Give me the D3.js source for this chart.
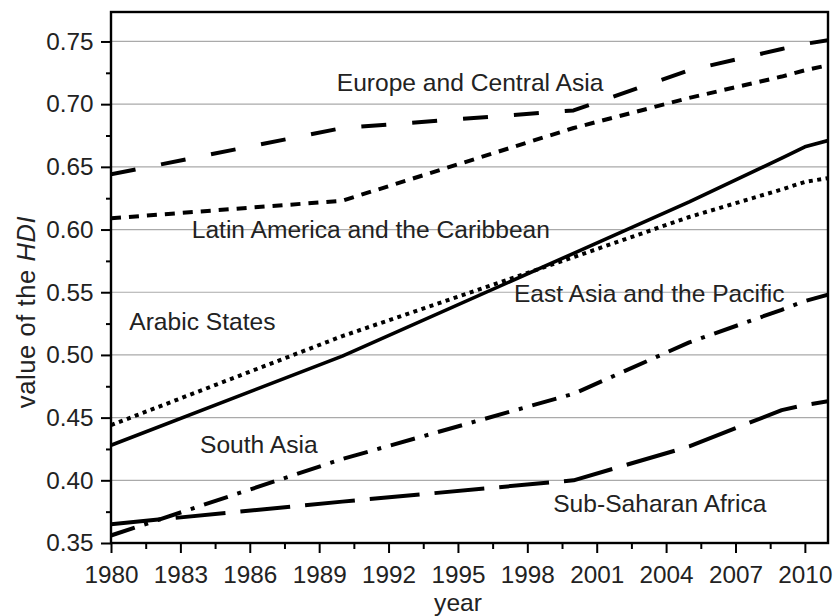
<!DOCTYPE html>
<html>
<head>
<meta charset="utf-8">
<script src="https://cdn.jsdelivr.net/npm/d3@7"></script>
<style>
  html, body { margin: 0; padding: 0; background: #fff; }
  svg { display: block; }
  text { font-family: "Liberation Sans", Arial, sans-serif; fill: #222; }
</style>
</head>
<body>
<svg id="chart" width="835" height="616"></svg>
<script>
// ---- data ----
const years = [1980, 1990, 2000, 2005, 2009, 2010, 2011];
const europeCentralAsia = [0.644, 0.681, 0.695, 0.727, 0.744, 0.748, 0.751];
const latinAmerica      = [0.609, 0.623, 0.681, 0.705, 0.722, 0.727, 0.731];
const eastAsiaPacific   = [0.428, 0.499, 0.581, 0.622, 0.657, 0.666, 0.671];
const arabStates        = [0.444, 0.515, 0.578, 0.610, 0.632, 0.638, 0.641];
const southAsia         = [0.356, 0.417, 0.469, 0.510, 0.536, 0.543, 0.548];
const subSaharanAfrica  = [0.365, 0.383, 0.400, 0.427, 0.456, 0.460, 0.463];

const xTickYears = [1980, 1983, 1986, 1989, 1992, 1995, 1998, 2001, 2004, 2007, 2010];
const yTickValues = [0.35, 0.40, 0.45, 0.50, 0.55, 0.60, 0.65, 0.70, 0.75];

const seriesNames = ["Europe and Central Asia", "Latin America and the Caribbean",
  "East Asia and the Pacific", "Arabic States", "South Asia", "Sub-Saharan Africa"];

// ---- layout ----
const svg = d3.select("#chart");
const mLeft = 111, mRight = 828, mTop = 12, mBottom = 543;

const x = d3.scaleLinear().domain([1980, 2011]).range([mLeft, mRight]);
const y = d3.scaleLinear().domain([0.35, 0.7735]).range([mBottom, mTop]);

// gridlines
svg.append("g").selectAll("line")
  .data(yTickValues.filter(v => v > 0.35))
  .join("line")
  .attr("x1", mLeft).attr("x2", mRight)
  .attr("y1", d => y(d)).attr("y2", d => y(d))
  .attr("stroke", "#aaaaaa").attr("stroke-width", 1.2);

// minor ticks
const xMinor = xTickYears.slice(0, -1).map(v => v + 1.5);
const yMinor = yTickValues.slice(0, -1).map(v => v + 0.025);

const xAxisMinor = svg.append("g").attr("transform", `translate(0,${mBottom})`)
  .call(d3.axisBottom(x).tickValues(xMinor).tickSize(6).tickSizeOuter(0).tickFormat(""));
const yAxisMinor = svg.append("g").attr("transform", `translate(${mLeft},0)`)
  .call(d3.axisLeft(y).tickValues(yMinor).tickSize(5).tickSizeOuter(0).tickFormat(""));

// major axes
const xAxis = svg.append("g").attr("transform", `translate(0,${mBottom})`)
  .call(d3.axisBottom(x).tickValues(xTickYears).tickSize(10).tickSizeOuter(0)
    .tickPadding(12.5).tickFormat(d3.format("d")));
const yAxis = svg.append("g").attr("transform", `translate(${mLeft},0)`)
  .call(d3.axisLeft(y).tickValues(yTickValues).tickSize(10).tickSizeOuter(0)
    .tickPadding(7.5).tickFormat(d3.format(".2f")));

[xAxisMinor, yAxisMinor, xAxis, yAxis].forEach(g => {
  g.select(".domain").remove();
  g.selectAll(".tick line").attr("stroke", "#000").attr("stroke-width", 2);
  g.selectAll(".tick text").style("font-size", "24.3px").attr("fill", "#222")
    .style("font-family", '"Liberation Sans", Arial, sans-serif');
});

// series lines
const seriesData = [europeCentralAsia, latinAmerica, eastAsiaPacific, arabStates, southAsia, subSaharanAfrica];
const dashes = ["25,26", "10,8", null, "4,4.5", "25,10,4,10", "50,15"];
const line = d3.line().x((d, i) => x(years[i])).y(d => y(d));

svg.append("clipPath").attr("id", "plotclip").append("rect")
  .attr("x", mLeft).attr("y", mTop).attr("width", mRight - mLeft).attr("height", mBottom - mTop);

svg.append("g").attr("clip-path", "url(#plotclip)")
  .selectAll("path").data(seriesData).join("path")
  .attr("d", d => line(d))
  .attr("fill", "none")
  .attr("stroke", "#000")
  .attr("stroke-width", (d, i) => i === 2 ? 3.6 : 4)
  .attr("stroke-dasharray", (d, i) => dashes[i])
  .attr("stroke-linecap", "butt")
  .attr("stroke-linejoin", "round");

// series labels (positions given in data units)
const labelPos = [
  { year: 1989.76, value: 0.7107 },
  { year: 1983.49, value: 0.5930 },
  { year: 1997.42, value: 0.5420 },
  { year: 1980.79, value: 0.5199 },
  { year: 1983.85, value: 0.4215 },
  { year: 1999.12, value: 0.3750 }
];
svg.append("g").selectAll("text").data(seriesNames).join("text")
  .attr("x", (d, i) => x(labelPos[i].year))
  .attr("y", (d, i) => y(labelPos[i].value))
  .style("font-size", "24.6px")
  .text(d => d);

// frame
svg.append("rect")
  .attr("x", mLeft).attr("y", mTop).attr("width", mRight - mLeft).attr("height", mBottom - mTop)
  .attr("fill", "none").attr("stroke", "#000").attr("stroke-width", 2.4);

// axis titles
svg.append("text")
  .attr("x", 458).attr("y", 611)
  .attr("text-anchor", "middle")
  .style("font-size", "24.6px")
  .text("year");

const yt = svg.append("text")
  .attr("transform", "translate(35,312) rotate(-90)")
  .attr("text-anchor", "middle")
  .style("font-size", "25.5px")
  .style("letter-spacing", "0.6px");
yt.append("tspan").text("value of the ");
yt.append("tspan").style("font-style", "italic").text("HDI");
</script>
</body>
</html>
